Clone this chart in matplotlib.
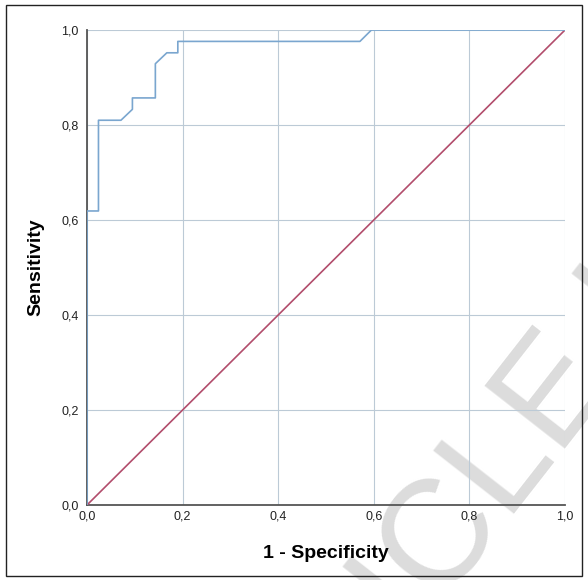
import matplotlib
matplotlib.use('Agg')
import matplotlib.pyplot as plt
from matplotlib.patches import Rectangle

# Curva ROC (1 - especificidad, sensibilidad)
fpr = [0.0, 0.0, 0.024, 0.024, 0.071, 0.095, 0.095, 0.143, 0.143, 0.167,
       0.190, 0.190, 0.571, 0.595, 1.0]
tpr = [0.0, 0.619, 0.619, 0.810, 0.810, 0.833, 0.857, 0.857, 0.929, 0.952,
       0.952, 0.976, 0.976, 1.0, 1.0]
ref_x = [0.0, 1.0]
ref_y = [0.0, 1.0]
ticks = [0.0, 0.2, 0.4, 0.6, 0.8, 1.0]
tick_labels = ['0,0', '0,2', '0,4', '0,6', '0,8', '1,0']

ROC, DIAG, GRID, AXIS = '#7aa6cf', '#b24d6c', '#bccad6', '#555555'
plt.rcParams['font.family'] = ['Liberation Sans', 'DejaVu Sans']

fig = plt.figure(figsize=(5.88, 5.80), dpi=100)
ax = fig.add_axes([87 / 588, 75 / 580, 478 / 588, 475 / 580])
ax.set_facecolor('none')

# marca de agua de fondo (cortada por el borde, como en el original)
fig.text(234 / 588, -292 / 580, 'ARTICLE IN PRESS', fontsize=107, color='#dcdcdc',
         rotation=52, rotation_mode='anchor', ha='left', va='baseline', zorder=-5)

ax.plot(ref_x, ref_y, color=DIAG, lw=1.2, zorder=3)
ax.plot(fpr, tpr, color=ROC, lw=1.2, zorder=4)

ax.set_xlim(0, 1); ax.set_ylim(0, 1)
ax.set_xticks(ticks); ax.set_xticklabels(tick_labels)
ax.set_yticks(ticks); ax.set_yticklabels(tick_labels)
ax.tick_params(length=0, labelsize=9, colors='#222222', pad=6)
ax.tick_params(axis='x', pad=4)
ax.grid(color=GRID, lw=0.8)
for s in ['top', 'right']:
    ax.spines[s].set_visible(False)
for s in ['left', 'bottom']:
    ax.spines[s].set_color(AXIS); ax.spines[s].set_linewidth(1.3)

ax.set_xlabel('1 - Specificity', fontsize=14, fontweight='bold', labelpad=16)
ax.set_ylabel('Sensitivity', fontsize=14, fontweight='bold', labelpad=12)

# marco exterior
fig.patches.append(Rectangle((6 / 588, 4 / 580), 576 / 588, 571 / 580,
                             transform=fig.transFigure, fill=False,
                             edgecolor='#222222', lw=1.0))

fig.savefig('out.png', dpi=100)
